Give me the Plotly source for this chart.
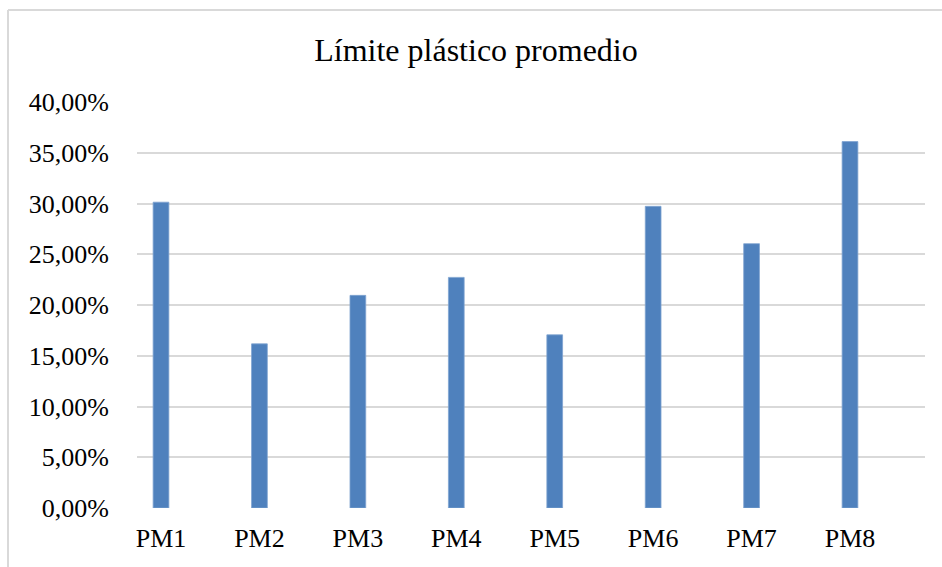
import plotly.graph_objects as go

categories = ["PM1", "PM2", "PM3", "PM4", "PM5", "PM6", "PM7", "PM8"]
values = [0.3013, 0.1617, 0.2095, 0.2272, 0.1706, 0.2972, 0.2604, 0.3610]
tick_vals = [0, 0.05, 0.10, 0.15, 0.20, 0.25, 0.30, 0.35, 0.40]
tick_text = ["0,00%", "5,00%", "10,00%", "15,00%", "20,00%", "25,00%", "30,00%", "35,00%", "40,00%"]
title_text = "Límite plástico promedio"

W, H = 942, 567
L, R, T, B = 137, 17, 102, 59
pw, ph = W - L - R, H - T - B

def px_x(px):
    return (px - L) / pw

def px_y(py):
    return (H - B - py) / ph

font_family = "Liberation Serif, Times New Roman, serif"

fig = go.Figure()
fig.add_trace(go.Bar(
    x=list(range(len(categories))), y=values,
    marker=dict(color="#4F81BD", line=dict(color="#7FA3D1", width=0.8)),
    width=0.16,
))

fig.update_layout(
    width=W, height=H,
    margin=dict(l=L, r=R, t=T, b=B),
    paper_bgcolor="white", plot_bgcolor="white",
    font=dict(family=font_family, size=26, color="#000000"),
    title=dict(text=title_text, x=476 / W, xanchor="center",
               y=1 - 50 / H, yanchor="middle",
               font=dict(family=font_family, size=32, color="#000000")),
    showlegend=False,
)
fig.update_xaxes(
    range=[-0.244, 7.762],
    tickvals=list(range(len(categories))), ticktext=categories,
    showgrid=False, showline=False, zeroline=False,
    ticks="outside", ticklen=7, tickcolor="rgba(0,0,0,0)",
    tickfont=dict(family=font_family, size=26, color="#000000"),
)
fig.update_yaxes(
    range=[0, 0.40], tickvals=tick_vals, ticktext=tick_text,
    showgrid=True, gridcolor="#D9D9D9", gridwidth=2,
    zeroline=False, showline=False,
    ticks="outside", ticklen=22, tickcolor="rgba(0,0,0,0)",
    tickfont=dict(family=font_family, size=26, color="#000000"),
)

# outer chart border (top and left visible)
border = "#D9D9D9"
fig.add_shape(type="line", xref="paper", yref="paper",
              x0=px_x(8), x1=px_x(960), y0=px_y(10), y1=px_y(10),
              line=dict(color=border, width=2))
fig.add_shape(type="line", xref="paper", yref="paper",
              x0=px_x(8), x1=px_x(8), y0=px_y(10), y1=px_y(600),
              line=dict(color=border, width=2))

fig.write_html("out.html", config={"displayModeBar": False},
               post_script="document.body.style.margin='0';")
